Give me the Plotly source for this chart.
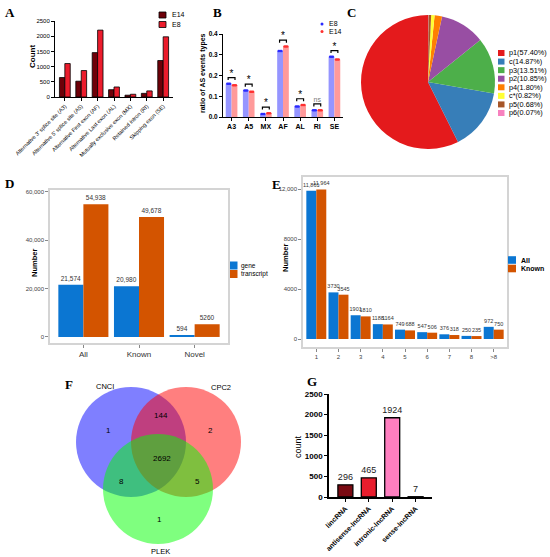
import plotly.graph_objects as go

W, H = 550, 557


def px(x):
    return x / W


def py(y):
    return 1 - y / H


# ---------------- data ----------------
# A: AS event counts
as_types = [
    "Alternative 3' splice site (A3)",
    "Alternative 5' splice site (A5)",
    "Alternative First exon (AF)",
    "Alternative Last exon (AL)",
    "Mutually exclusive exon (MX)",
    "Retained intron (RI)",
    "Skipping exon (SE)",
]
as_e14 = [640, 520, 1460, 240, 60, 120, 1200]
as_e8 = [1100, 870, 2200, 330, 90, 200, 1980]

# B: ratio of AS event types
ratio_types = ["A3", "A5", "MX", "AF", "AL", "RI", "SE"]
ratio_e8 = [0.160, 0.128, 0.015, 0.318, 0.050, 0.033, 0.290]
ratio_e14 = [0.153, 0.122, 0.018, 0.340, 0.058, 0.033, 0.277]
ratio_sig = ["*", "*", "*", "*", "*", "ns", "*"]

# C: pie
pie_names = ["p1", "c", "p3", "p2", "p4", "c*", "p5", "p6"]
pie_pct = [57.40, 14.87, 13.51, 10.85, 1.80, 0.82, 0.68, 0.07]

# D: gene / transcript numbers
count_groups = ["All", "Known", "Novel"]
count_gene = [21574, 20980, 594]
count_transcript = [54938, 49678, 5260]

# E: isoforms per gene
iso_bins = ["1", "2", "3", "4", "5", "6", "7", "8", ">8"]
iso_all = [11861, 3730, 1901, 1188, 749, 547, 376, 250, 972]
iso_known = [11964, 3545, 1810, 1164, 688, 506, 318, 235, 750]
iso_yticks = [0, 4000, 8000, 12000]
iso_yticklabels = ["0", "4000", "8000", "12,000"]

# F: venn
venn_sets = ["CNCI", "CPC2", "PLEK"]
venn_counts = [1, 2, 1, 144, 8, 5, 2692]  # CNCI, CPC2, PLEK, CNCI&CPC2, CNCI&PLEK, CPC2&PLEK, all

# G: lncRNA classes
lnc_types = ["lincRNA", "antisense-lncRNA", "intronic-lncRNA", "sense-lncRNA"]
lnc_counts = [296, 465, 1924, 7]

# ---------------- styles ----------------
SANS = "Liberation Sans"
SERIF = "Liberation Serif"
A_COLORS = ["#6e0008", "#ec1c2c"]
B_BAR = ["#9595ff", "#ff9a9a"]
B_DOT = ["#2b2bff", "#ff3030"]
PIE_COLORS = ["#e41a1c", "#377eb8", "#4daf4a", "#984ea3", "#ff7f00", "#ffff33", "#a65628", "#f781bf"]
BLUE = "#0b76d2"
ORANGE = "#d35400"
G_COLORS = ["#7a0a12", "#e81d2d", "#ff7fc0", "#ffc0d8"]
VENN_FILL = ["rgba(0,0,255,0.5)", "rgba(255,0,0,0.5)", "rgba(0,255,0,0.5)"]


def lab(v):
    return f"{v:,}" if v >= 10000 else str(v)


fig = go.Figure()

# ---- A ----
for vals, col, off in [(as_e14, A_COLORS[0], -0.33), (as_e8, A_COLORS[1], 0.0)]:
    fig.add_trace(go.Bar(
        x=as_types, y=vals, width=0.33, offset=off,
        marker=dict(color=col, line=dict(color="black", width=0.8)),
        xaxis="x", yaxis="y", showlegend=False,
    ))

# ---- B ----
xs = list(range(len(ratio_types)))
for vals, col, off in [(ratio_e8, B_BAR[0], -0.34), (ratio_e14, B_BAR[1], 0.0)]:
    fig.add_trace(go.Bar(
        x=xs, y=vals, width=0.34, offset=off, marker=dict(color=col, line=dict(width=0)),
        xaxis="x2", yaxis="y2", showlegend=False,
    ))
for vals, col, c in [(ratio_e8, B_DOT[0], -0.17), (ratio_e14, B_DOT[1], 0.17)]:
    dx, dy = [], []
    for i, v in enumerate(vals):
        for j in (-0.08, 0, 0.08):
            dx.append(i + c + j)
            dy.append(v)
    fig.add_trace(go.Scatter(
        x=dx, y=dy, mode="markers", marker=dict(color=col, size=2.5),
        xaxis="x2", yaxis="y2", showlegend=False, cliponaxis=False,
    ))
bx, by, sx, sy = [], [], [], []
for i, (a, b) in enumerate(zip(ratio_e8, ratio_e14)):
    top = max(a, b) + 0.03
    bx += [i - 0.2, i - 0.2, i + 0.2, i + 0.2, None]
    by += [top - 0.012, top, top, top - 0.012, None]
    sx.append(i)
    sy.append(top + 0.016)
fig.add_trace(go.Scatter(
    x=bx, y=by, mode="lines", line=dict(color="black", width=1.2),
    xaxis="x2", yaxis="y2", showlegend=False, cliponaxis=False,
))
fig.add_trace(go.Scatter(
    x=sx, y=sy, mode="text", text=ratio_sig,
    textfont=dict(family=SANS, size=[10 if s == "*" else 7 for s in ratio_sig],
                  color=["black" if s == "*" else "#777" for s in ratio_sig]),
    xaxis="x2", yaxis="y2", showlegend=False, cliponaxis=False,
))

# ---- C ----
# counterclockwise pies in plotly put the first slice clockwise of the start angle,
# so rotate back by the first slice to have p1 run counterclockwise from 12 o'clock
first_angle = pie_pct[0] / sum(pie_pct) * 360
fig.add_trace(go.Pie(
    labels=pie_names, values=pie_pct, sort=False, direction="counterclockwise",
    rotation=-first_angle, textinfo="none", marker=dict(colors=PIE_COLORS, line=dict(width=0)),
    domain=dict(x=[px(361), px(495)], y=[py(149), py(15)]), showlegend=False,
))

# ---- D ----
for vals, col, off in [(count_gene, BLUE, -0.45), (count_transcript, ORANGE, 0.0)]:
    fig.add_trace(go.Bar(
        x=count_groups, y=vals, width=0.45, offset=off, marker=dict(color=col, line=dict(width=0)),
        text=[lab(v) for v in vals], textposition="outside", constraintext="none",
        textfont=dict(family=SANS, size=6.5, color="#333"), cliponaxis=False,
        xaxis="x3", yaxis="y3", showlegend=False,
    ))

# ---- E ----
for vals, col, off in [(iso_all, BLUE, -0.45), (iso_known, ORANGE, 0.0)]:
    fig.add_trace(go.Bar(
        x=iso_bins, y=vals, width=0.45, offset=off, marker=dict(color=col, line=dict(width=0)),
        text=[lab(v) for v in vals], textposition="outside", constraintext="none",
        textfont=dict(family=SANS, size=5.5, color="#333"), cliponaxis=False,
        xaxis="x4", yaxis="y4", showlegend=False,
    ))

# ---- G ----
fig.add_trace(go.Bar(
    x=lnc_types, y=lnc_counts, width=0.64, offset=-0.32,
    marker=dict(color=G_COLORS, line=dict(color="black", width=1.3)),
    text=[str(v) for v in lnc_counts], textposition="outside", constraintext="none",
    textfont=dict(family=SANS, size=9, color="#222"), cliponaxis=False,
    xaxis="x5", yaxis="y5", showlegend=False,
))

# ---------------- axes ----------------
black_ax = dict(showline=True, linecolor="black", linewidth=1, ticks="outside", ticklen=3,
                tickcolor="black", showgrid=False, zeroline=False, automargin=False)
gg_ax = dict(showline=True, mirror=True, linecolor="#d4d4d4", linewidth=1.5, ticks="outside",
             ticklen=3, tickcolor="#888", showgrid=False, zeroline=False, automargin=False)

layout_axes = dict(
    xaxis=dict(domain=[px(55), px(173)], anchor="y", range=[-0.6, 6.6], tickangle=-45,
               tickfont=dict(family=SANS, size=5.5, color="black"), **black_ax),
    yaxis=dict(domain=[py(97), py(21)], anchor="x", range=[0, 2500], dtick=500,
               tickfont=dict(family=SANS, size=6, color="black"), **black_ax),
    xaxis2=dict(domain=[px(223), px(343)], anchor="y2", range=[-0.5, 6.5], tickvals=xs,
                ticktext=ratio_types, tickfont=dict(family=SANS, size=7, color="black", weight="bold"),
                **black_ax),
    yaxis2=dict(domain=[py(117), py(34)], anchor="x2", range=[0, 0.4], dtick=0.1, tickformat=".1f",
                tickfont=dict(family=SANS, size=6.5, color="black", weight="bold"), **black_ax),
    xaxis3=dict(domain=[px(50), px(228)], anchor="y3", range=[-0.6, 2.6],
                tickfont=dict(family=SANS, size=8, color="#333"), **gg_ax),
    yaxis3=dict(domain=[py(343), py(190)], anchor="x3", range=[-2500, 60800],
                tickvals=[0, 20000, 40000, 60000], tickformat=",",
                tickfont=dict(family=SANS, size=6, color="#444"), **gg_ax),
    xaxis4=dict(domain=[px(303), px(507)], anchor="y4", range=[-0.6, 8.6],
                tickfont=dict(family=SANS, size=6, color="#444"), **gg_ax),
    yaxis4=dict(domain=[py(347), py(177)], anchor="x4", range=[-640, 12960],
                tickvals=iso_yticks, ticktext=iso_yticklabels,
                tickfont=dict(family=SANS, size=6, color="#444"), **gg_ax),
    xaxis5=dict(domain=[px(329), px(432)], anchor="y5", range=[-0.7, 3.7], tickangle=-45,
                tickfont=dict(family=SANS, size=7, color="black", weight="bold"),
                **{**black_ax, "linewidth": 1.5}),
    yaxis5=dict(domain=[py(497), py(394)], anchor="x5", range=[0, 2500], dtick=500,
                tickfont=dict(family=SANS, size=8, color="black", weight="bold"),
                **{**black_ax, "linewidth": 1.5}),
)

shapes = []
annotations = []


def note(x, y, text, size=8, family=SANS, bold=False, angle=0, xanchor="center", color="black"):
    annotations.append(dict(
        x=px(x), y=py(y), xref="paper", yref="paper", text=text, showarrow=False,
        textangle=angle, xanchor=xanchor, yanchor="middle",
        font=dict(family=family, size=size, color=color, weight="bold" if bold else "normal"),
    ))


def key_box(x0, y0, x1, y1, color, outline=None):
    shapes.append(dict(
        type="rect", xref="paper", yref="paper", x0=px(x0), x1=px(x1), y0=py(y1), y1=py(y0),
        fillcolor=color, line=dict(color=outline or color, width=0.8 if outline else 0),
    ))


# panel letters
for letter, x, y in [("A", 3, 12), ("B", 211, 12), ("C", 345, 12), ("D", 3, 183),
                     ("E", 270, 184), ("F", 63, 384), ("G", 305, 381)]:
    note(x, y, letter, size=13, family=SERIF, bold=True, xanchor="left")

# axis titles
note(32, 57, "Count", size=8, bold=True, angle=-90)
note(203, 73, "ratio of AS events types", size=7, bold=True, angle=-90)
note(34, 263, "Number", size=7.5, bold=True, angle=-90)
note(285, 258, "Number", size=7.5, bold=True, angle=-90)
note(298, 447, "count", size=9, angle=-90)

# A legend
for i, (name, col) in enumerate(zip(["E14", "E8"], A_COLORS)):
    yc = 15 + i * 9.5
    key_box(159, yc - 3, 166, yc + 3, col, outline="black")
    note(170, yc, name, size=7, xanchor="left")

# B legend
for i, (name, col) in enumerate(zip(["E8", "E14"], B_DOT)):
    yc = 24 + i * 7.5
    shapes.append(dict(type="circle", xref="paper", yref="paper", x0=px(320.5), x1=px(323.5),
                       y0=py(yc + 1.5), y1=py(yc - 1.5), fillcolor=col, line=dict(width=0)))
    note(327, yc, name, size=7, xanchor="left")

# C legend
for i, (name, pct, col) in enumerate(zip(pie_names, pie_pct, PIE_COLORS)):
    yc = 53 + i * 8.57
    key_box(498, yc - 3, 504.5, yc + 3, col)
    note(506.5, yc, f"{name}({pct:.2f}%)", size=7.3, xanchor="left")

# D legend
for i, (name, col) in enumerate(zip(["gene", "transcript"], [BLUE, ORANGE])):
    yc = 265.5 + i * 8.5
    key_box(230, yc - 4, 237.5, yc + 4, col)
    note(239, yc, name, size=6.5, xanchor="left")

# E legend
for i, (name, col) in enumerate(zip(["All", "Known"], [BLUE, ORANGE])):
    yc = 260 + i * 8.5
    key_box(508, yc - 3.8, 516, yc + 3.8, col)
    note(518.5, yc, name, size=7, bold=True, xanchor="left")

# F venn
circles = [(131, 442), (186, 442), (158, 489)]
R = 55
for (cx, cy), fill in zip(circles, VENN_FILL):
    shapes.append(dict(type="circle", xref="paper", yref="paper", x0=px(cx - R), x1=px(cx + R),
                       y0=py(cy + R), y1=py(cy - R), fillcolor=fill, line=dict(width=0)))
for name, (x, y) in zip(venn_sets, [(105, 386), (221, 387), (160, 551)]):
    note(x, y, name, size=7.5)
region_pos = [(108, 430), (211, 430), (159, 519), (161, 415), (121, 481), (197, 481), (162, 458)]
for n, (x, y) in zip(venn_counts, region_pos):
    note(x, y, str(n), size=8)

fig.update_layout(
    width=W, height=H, margin=dict(l=0, r=0, t=0, b=0, autoexpand=False),
    paper_bgcolor="white", plot_bgcolor="white",
    barmode="group", showlegend=False,
    font=dict(family=SANS, size=7, color="black"),
    shapes=shapes, annotations=annotations,
    **layout_axes,
)

# drop the browser's default body margin so the 550x557 figure fills the window exactly
fig.write_html(
    "out.html",
    config={"displayModeBar": False},
    post_script="document.body.style.margin='0';document.body.style.overflow='hidden';",
)
